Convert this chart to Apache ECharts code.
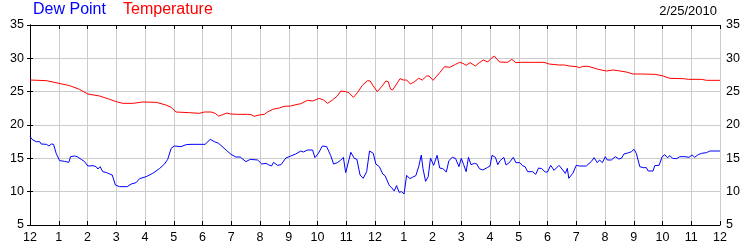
<!DOCTYPE html>
<html>
<head>
<meta charset="utf-8">
<script src="https://cdn.jsdelivr.net/npm/echarts@6/dist/echarts.min.js"></script>
<style>html,body{margin:0;padding:0;background:#fff}#c{width:750px;height:250px}</style>
</head>
<body>
<div id="c"></div>
<script>
const xTickLabels = ['12','1','2','3','4','5','6','7','8','9','10','11','12','1','2','3','4','5','6','7','8','9','10','11','12'];
const yTicks = [5, 10, 15, 20, 25, 30, 35];
const dateLabel = '2/25/2010';

const tempHours = [0.00,0.57,1.01,1.38,1.72,2.01,2.42,2.77,3.00,3.23,3.58,3.92,4.39,4.73,4.91,5.08,5.54,
  5.60,5.89,6.06,6.30,6.44,6.56,6.70,6.85,6.98,7.22,7.57,7.69,7.80,7.97,8.15,8.26,8.44,8.67,8.84,9.07,9.25,9.42,9.65,9.83,10.06,10.21,10.35,10.52,10.69,10.81,10.98,11.09,11.25,11.39,11.56,11.74,11.83,
  11.94,12.08,12.23,12.38,12.46,12.54,12.61,12.73,12.87,12.98,13.10,13.23,13.36,13.52,13.65,13.79,13.88,14.02,14.13,14.25,14.42,14.60,14.80,14.94,15.06,15.17,15.31,15.49,15.63,15.77,15.92,16.04,16.15,16.33,16.61,16.76,16.90,17.07,17.36,17.88,18.06,18.40,
  18.59,18.77,19.00,19.12,19.23,19.41,19.58,19.76,20.05,20.28,20.45,20.74,20.98,21.27,21.73,21.99,22.26,22.72,22.90,23.36,23.53,24.00];
const tempValues = [26.75,26.65,26.25,25.9,25.35,24.65,24.35,23.85,23.5,23.25,23.25,23.45,23.4,23.0,22.65,21.95,21.85,
  21.75,21.75,21.95,21.95,21.75,21.35,21.55,21.8,21.65,21.6,21.6,21.55,21.3,21.5,21.6,21.95,22.35,22.55,22.8,22.85,23.05,23.2,23.7,23.6,24.0,23.75,23.25,23.75,24.35,25.1,25.0,24.85,24.15,24.85,25.95,26.65,26.6,
  25.85,25.0,25.75,26.6,26.5,25.4,25.25,26.0,26.95,26.75,26.75,26.15,26.45,27.0,26.75,27.35,27.35,26.7,27.25,27.85,28.75,28.65,29.1,29.4,29.25,28.95,29.35,28.85,29.35,29.75,29.45,30.0,30.35,29.45,29.4,29.85,29.35,29.4,29.4,29.4,29.15,29.0,
  29.0,28.85,28.75,28.6,28.8,28.8,28.6,28.35,28.1,28.25,28.15,27.95,27.65,27.65,27.6,27.4,27.0,26.95,26.85,26.85,26.7,26.7];

const dewHours = [0.00,0.10,0.22,0.34,0.39,0.57,0.66,0.74,0.82,0.91,1.03,1.20,1.26,1.35,1.41,1.55,1.64,1.78,1.90,2.01,2.07,2.19,2.30,2.36,2.44,2.53,2.67,2.77,2.86,2.97,3.11,3.38,3.52,3.69,3.81,4.04,4.27,4.50,4.68,4.79,4.91,5.02,5.25,5.43,
  5.60,6.09,6.27,6.41,6.56,6.82,6.99,7.16,7.31,7.51,7.66,7.92,8.06,8.21,8.29,8.40,8.47,8.61,8.73,8.90,9.07,9.24,9.42,9.51,9.65,9.83,9.91,10.03,10.17,10.32,10.46,10.56,10.69,10.79,10.90,10.98,11.16,11.28,11.37,11.48,11.59,11.71,11.81,
  11.94,12.03,12.15,12.27,12.35,12.40,12.50,12.58,12.67,12.75,12.84,12.92,13.01,13.10,13.21,13.30,13.42,13.52,13.61,13.67,13.76,13.85,13.93,14.04,14.16,14.25,14.36,14.48,14.57,14.69,14.80,14.92,15.00,15.08,15.17,15.25,15.34,15.46,15.54,15.63,15.75,15.92,16.00,16.07,16.19,16.27,16.35,16.48,16.56,16.67,16.81,16.90,17.04,17.13,17.22,17.31,17.48,17.59,17.69,17.80,17.92,18.00,18.11,18.23,18.40,
  18.53,18.62,18.69,18.74,18.88,19.00,19.12,19.17,19.35,19.52,19.62,19.73,19.81,19.91,20.01,20.08,20.22,20.36,20.48,20.57,20.66,20.83,20.92,21.01,21.09,21.21,21.33,21.44,21.50,21.67,21.73,21.88,21.99,22.08,22.17,22.26,22.35,22.49,22.60,22.78,22.84,22.92,23.03,23.12,23.24,23.36,23.53,23.65,24.00];
const dewValues = [18.25,17.75,17.5,17.5,17.15,17.1,16.85,17.15,17.1,15.75,14.65,14.55,14.65,14.4,15.25,15.35,15.25,14.85,14.5,13.85,13.65,13.9,13.75,13.4,13.75,13.0,12.85,12.65,12.5,11.0,10.75,10.75,11.15,11.35,11.95,12.25,12.75,13.45,14.15,14.85,16.5,16.85,16.75,17.05,
  17.1,17.1,17.85,17.5,17.25,16.25,15.6,15.2,15.2,14.5,14.85,14.75,14.15,14.25,14.05,13.85,14.4,13.95,14.05,15.05,15.35,15.65,16.1,15.95,16.25,16.25,15.1,15.75,16.85,16.75,15.4,14.15,14.35,14.65,15.15,12.85,15.9,15.0,14.85,12.5,12.0,13.0,16.1,
  15.75,14.15,13.75,12.65,12.4,12.65,10.9,10.6,10.1,10.9,9.9,10.0,9.65,12.45,11.95,12.15,12.4,13.75,15.5,13.45,11.55,12.25,15.05,13.95,15.45,13.55,13.45,12.95,14.65,15.15,15.0,13.75,15.0,14.1,13.0,15.15,14.05,14.25,14.15,13.45,13.25,13.65,13.85,15.45,15.15,14.05,14.65,15.15,14.0,14.35,15.15,14.35,14.35,13.9,13.75,13.0,13.0,12.6,13.55,13.45,12.95,12.95,13.95,13.2,13.95,
  13.25,12.75,13.5,12.0,12.75,13.95,13.85,14.0,13.85,14.5,15.1,14.35,14.75,14.35,15.25,14.75,14.75,15.25,14.9,15.0,15.65,15.85,16.0,16.35,15.75,13.75,13.6,13.6,13.1,13.1,13.9,13.95,15.25,15.55,15.1,15.4,15.0,14.95,15.25,15.25,15.5,15.15,15.5,15.15,15.55,15.75,15.85,16.1,16.1];

const zip = (xs, ys) => xs.map((x, i) => [x, ys[i]]);
const FONT = 'Liberation Sans, Arial, sans-serif';
const BLUE = '#0000ff', RED = '#ff0000';

const chart = echarts.init(document.getElementById('c'), null, {renderer: 'canvas'});
const yBase = {
  type: 'value', min: yTicks[0], max: yTicks[yTicks.length - 1], interval: 5,
  axisLine: {show: true, lineStyle: {color: '#000', width: 1}},
  axisTick: {show: true, inside: false, length: 3, lineStyle: {color: '#000'}},
  axisLabel: {color: '#000', fontSize: 12.5, fontFamily: FONT, margin: 6}
};
chart.setOption({
  animation: false,
  backgroundColor: '#fff',
  title: [
    {text: 'Dew Point', left: 33, top: 2, padding: 0, textStyle: {color: BLUE, fontSize: 16, fontWeight: 'normal', fontFamily: FONT}},
    {text: 'Temperature', left: 123, top: 2, padding: 0, textStyle: {color: RED, fontSize: 16, fontWeight: 'normal', fontFamily: FONT}},
    {text: dateLabel, right: 33, top: 5, padding: 0, textStyle: {color: '#000', fontSize: 13, fontWeight: 'normal', fontFamily: FONT}}
  ],
  grid: {left: 30, right: 30, top: 25, bottom: 25, containLabel: false},
  xAxis: [
    {type: 'value', min: 0, max: 24, interval: 1, position: 'bottom',
     axisLine: {show: true, onZero: false, lineStyle: {color: '#000', width: 1}},
     axisTick: {show: true, inside: true, length: 4, lineStyle: {color: '#000'}},
     axisLabel: {color: '#000', fontSize: 12.5, fontFamily: FONT, margin: 6, formatter: v => xTickLabels[Math.round(v)]},
     splitLine: {show: true, lineStyle: {color: '#cccccc', width: 1}}},
    {type: 'value', min: 0, max: 24, interval: 1, position: 'top',
     axisLine: {show: true, onZero: false, lineStyle: {color: '#000', width: 1}},
     axisTick: {show: true, inside: true, length: 4, lineStyle: {color: '#000'}},
     axisLabel: {show: false}, splitLine: {show: false}}
  ],
  yAxis: [
    Object.assign({}, yBase, {position: 'left', splitLine: {show: true, lineStyle: {color: '#cccccc', width: 1}}}),
    Object.assign({}, yBase, {position: 'right', splitLine: {show: false}})
  ],
  series: [
    {name: 'Temperature', type: 'line', data: zip(tempHours, tempValues), showSymbol: false, symbol: 'none',
     lineStyle: {color: RED, width: 1}, itemStyle: {color: RED}, z: 3},
    {name: 'Dew Point', type: 'line', data: zip(dewHours, dewValues), showSymbol: false, symbol: 'none',
     lineStyle: {color: BLUE, width: 1}, itemStyle: {color: BLUE}, z: 3}
  ]
});
</script>
</body>
</html>
